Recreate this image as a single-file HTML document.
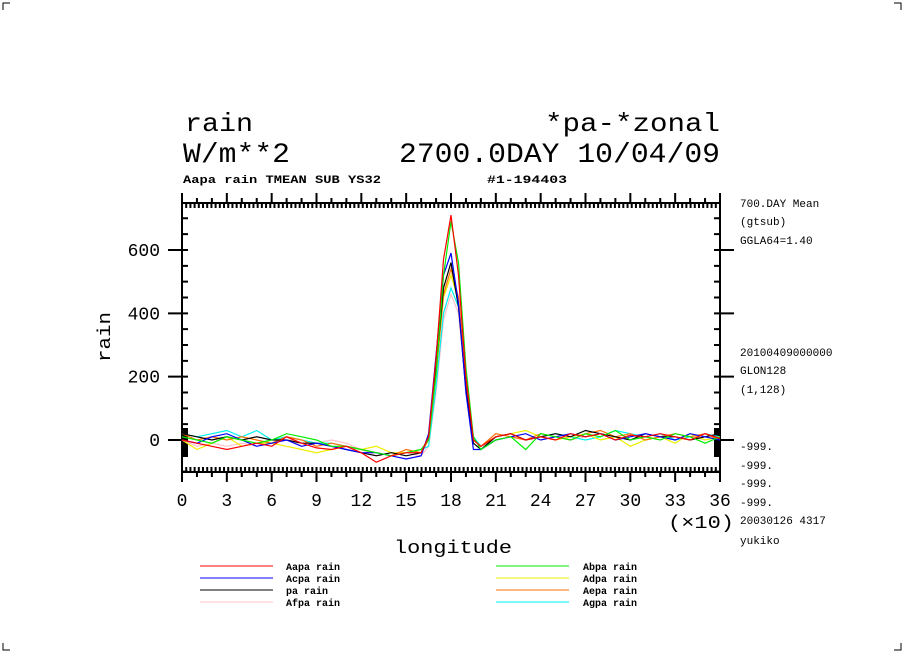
<!DOCTYPE html>
<html><head><meta charset="utf-8"><style>
html,body{margin:0;padding:0;background:#fff;}
svg{display:block;font-family:"Liberation Mono",monospace;}
</style></head><body>
<svg id="chart" width="904" height="654" viewBox="0 0 904 654" xmlns="http://www.w3.org/2000/svg">
<g stroke="#000" stroke-width="1" fill="none">
<path d="M3,10V3H10M894,3H901V10M3,643V650H10M894,650H901V643"/>
</g>
<g fill="#000">
<text x="185" y="131" font-size="26" textLength="68" lengthAdjust="spacingAndGlyphs">rain</text>
<text x="545" y="131" font-size="26" textLength="175" lengthAdjust="spacingAndGlyphs">*pa-*zonal</text>
<text x="183" y="162" font-size="28" textLength="107" lengthAdjust="spacingAndGlyphs">W/m**2</text>
<text x="399" y="162" font-size="28" textLength="321" lengthAdjust="spacingAndGlyphs">2700.0DAY 10/04/09</text>
<text x="183" y="183" font-size="11" font-weight="bold" textLength="198" lengthAdjust="spacingAndGlyphs">Aapa rain TMEAN SUB YS32</text>
<text x="487" y="183" font-size="11" font-weight="bold" textLength="80" lengthAdjust="spacingAndGlyphs">#1-194403</text>
</g>
<g fill="#000" font-size="11">
<text x="740" y="207">700.DAY Mean</text>
<text x="740" y="225">(gtsub)</text>
<text x="740" y="244">GGLA64=1.40</text>
<text x="740" y="356">20100409000000</text>
<text x="740" y="374">GLON128</text>
<text x="740" y="393">(1,128)</text>
<text x="740" y="450">-999.</text>
<text x="740" y="469">-999.</text>
<text x="740" y="487">-999.</text>
<text x="740" y="506">-999.</text>
<text x="740" y="524">20030126   4317</text>
<text x="740" y="544">yukiko</text>
</g>
<g id="axes"></g>
<g id="series"></g>
<g id="legend"></g>
<text x="453" y="553" font-size="18" text-anchor="middle" textLength="118" lengthAdjust="spacingAndGlyphs">longitude</text>
<text x="668" y="528" font-size="18" textLength="66" lengthAdjust="spacingAndGlyphs">(×10)</text>
<text x="0" y="0" font-size="18" text-anchor="middle" transform="translate(110,337) rotate(-90)" textLength="50" lengthAdjust="spacingAndGlyphs">rain</text>
</svg>
<script>
const lons=[0,10,20,30,40,50,60,70,80,90,100,110,120,130,140,150,160,165,170,175,180,185,190,195,200,210,220,230,240,250,260,270,280,290,300,310,320,330,340,350,360];
const seriesNames=["Aapa rain","Abpa rain","Acpa rain","Adpa rain","pa rain","Aepa rain","Afpa rain","Agpa rain"];
const seriesColors=["#ff0000","#00ee00","#0000ff","#eeee00","#000000","#ff7000","#ffc0cb","#00f0f0"];
const red=[0,-10,-20,-30,-20,-10,-20,10,-10,-25,-30,-20,-40,-70,-50,-40,-40,10,260,570,710,520,200,0,-20,10,20,0,10,0,20,10,20,0,15,10,20,10,0,20,5];
const green=[10,0,-10,10,0,-10,0,20,10,0,-20,-20,-30,-40,-50,-40,-30,0,210,520,690,560,230,10,-30,0,10,-30,20,10,0,20,10,30,0,10,0,20,10,-10,10];
const blue=[0,-10,10,20,0,-20,-10,0,-20,-10,-20,-30,-40,-40,-50,-60,-50,20,270,520,590,430,150,-30,-30,0,10,20,0,10,20,10,20,0,10,20,10,0,20,10,0];
const yellow=[0,-30,-10,10,-20,-10,-10,-20,-30,-40,-30,-20,-30,-20,-40,-40,-30,0,210,450,520,440,170,0,-20,10,20,30,10,0,10,20,0,10,-20,0,10,-10,20,0,10];
const black=[20,10,0,10,0,10,0,0,-10,-10,-20,-30,-40,-50,-40,-50,-40,10,230,480,560,420,160,-10,-30,10,20,0,10,20,10,30,20,10,0,20,10,10,0,10,20];
const orange=[20,0,10,0,10,0,-10,10,0,-20,-10,-20,-30,-40,-50,-30,-40,0,210,460,540,450,180,0,-20,20,10,0,20,10,0,20,30,10,20,0,10,20,10,20,0];
const pink=[0,-20,-10,-20,-10,-20,0,10,-20,-10,0,-10,-30,-50,-40,-40,-50,-20,150,380,460,400,170,0,-20,0,10,0,10,20,0,10,20,10,0,10,20,0,10,0,10];
const cyan=[20,10,20,30,10,30,0,10,0,-10,-10,-20,-30,-40,-50,-40,-30,-20,170,400,480,420,190,10,-20,10,20,0,10,20,10,0,10,30,20,10,20,0,10,20,10];
const xTickLabels=["0","3","6","9","12","15","18","21","24","27","30","33","36"];
const yTickLabels=["0","200","400","600"];

const NS="http://www.w3.org/2000/svg";
const X0=182,X1=720,Y0=203,Y1=472,XMIN=0,XMAX=360,YZERO=440,YPER=0.3167;
function xs(v){return X0+(v-XMIN)/(XMAX-XMIN)*(X1-X0);}
function ys(v){return YZERO-v*YPER;}
function mk(tag,attrs,parent){const e=document.createElementNS(NS,tag);for(const k in attrs)e.setAttribute(k,attrs[k]);parent.appendChild(e);return e;}

const axes=document.getElementById('axes');
let d="";
d+=`M${X0},${Y0}H${X1}V${Y1}H${X0}Z`;
for(let i=0;i<xTickLabels.length;i++){const x=xs(Number(xTickLabels[i])*10);d+=`M${x},${Y0}V${Y0-10}M${x},${Y1}V${Y1+10}`;}
for(let v=0;v<=360;v+=10){const x=xs(v);d+=`M${x},${Y0}V${Y0-5}M${x},${Y1}V${Y1+5}`;}
for(let i=0;i<=128;i++){const x=xs(i*360/128);d+=`M${x},${Y0}V${Y0+5}M${x},${Y1}V${Y1-5}`;}
for(let v=-100;v<=750;v+=50){const y=ys(v);if(y<Y0||y>Y1)continue;d+=`M${X0},${y}H${X0+6}M${X1},${y}H${X1-6}`;}
for(let i=0;i<yTickLabels.length;i++){const y=ys(Number(yTickLabels[i]));d+=`M${X0},${y}H${X0-14}M${X1},${y}H${X1+14}`;}
const fr=mk('path',{d:d,stroke:'#000','stroke-width':2,fill:'none'},axes);


const blk=mk('rect',{x:X0,y:428,width:6,height:29,fill:'#000'},axes);


const blk2=mk('rect',{x:X1-6,y:428,width:6,height:29,fill:'#000'},axes);


for(let i=0;i<xTickLabels.length;i++){
  const t=mk('text',{x:xs(Number(xTickLabels[i])*10),y:506,'font-size':18,'text-anchor':'middle'},axes);
  t.textContent=xTickLabels[i];
  
  
}
for(let i=0;i<yTickLabels.length;i++){
  const t=mk('text',{x:160,y:ys(Number(yTickLabels[i]))+6,'font-size':18,'text-anchor':'end'},axes);
  t.textContent=yTickLabels[i];
  
  
}
const data=[red,green,blue,yellow,black,orange,pink,cyan];
const drawOrder=[6,7,3,5,4,2,1,0];
const sg=document.getElementById('series');
for(const i of drawOrder){
  const pts=data[i].map((v,j)=>xs(lons[j]).toFixed(1)+","+ys(v).toFixed(1)).join(" ");
  const p=mk('polyline',{points:pts,fill:'none',stroke:seriesColors[i],'stroke-width':1.2},sg);
  
  
}
const lg=document.getElementById('legend');
const legendLeft=[0,2,4,6],legendRight=[1,3,5,7];
function legendEntry(idx,row,lx,tx){
  const g=mk('g',{},lg);
  
  
  const y=566+row*12;
  mk('line',{x1:lx,y1:y,x2:lx+73,y2:y,stroke:seriesColors[idx],'stroke-width':1},g);
  const t=mk('text',{x:tx,y:y+4,'font-size':10,'font-weight':'bold'},g);
  t.textContent=seriesNames[idx];
}
legendLeft.forEach((idx,r)=>legendEntry(idx,r,200,286));
legendRight.forEach((idx,r)=>legendEntry(idx,r,496,583));
</script>
</body></html>
